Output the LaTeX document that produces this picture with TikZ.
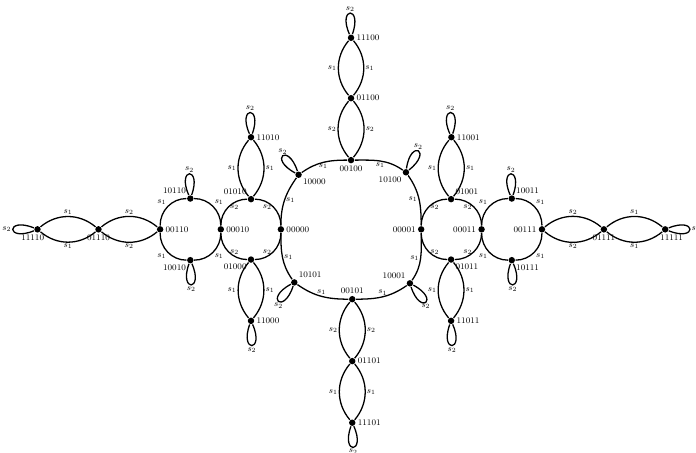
\documentclass[tikz,border=0pt]{standalone}
\usepackage{tikz}

\tikzset{
	vtx/.style={circle, fill=black, inner sep=0pt, minimum size=6pt},
	lab/.style={font=\footnotesize, inner sep=1pt},
	lp/.style={min distance=1cm, looseness=1},
}

\begin{document}
\begin{tikzpicture}[line width=1.2pt, every label/.style={lab}, label distance=0pt]
					\useasboundingbox (-11.51,-7.33) rectangle (11.31,7.52);
					\node[vtx, label={[xshift=-4.5pt]below:11110}] (v11110) at (-10.28,0) {};
					\node[vtx, label=below:01110] (v01110) at (-8.28,0) {};
					\node[vtx, label=right:00110] (v00110) at (-6.26,0) {};
					\node[vtx, label=above left:10110] (v10110) at (-5.27,1.01) {};
					\node[vtx, label=below left:10010] (v10010) at (-5.27,-1.01) {};
					\node[vtx, label=right:00010] (v00010) at (-4.27,0) {};
					\node[vtx, label=above left:01010] (v01010) at (-3.28,0.99) {};
					\node[vtx, label=below left:01000] (v01000) at (-3.28,-0.99) {};
					\node[vtx, label=right:11010] (v11010) at (-3.28,3.02) {};
					\node[vtx, label=right:11000] (v11000) at (-3.28,-3.0) {};
					\node[vtx, label=right:00000] (v00000) at (-2.3,0) {};
					\node[vtx, label=below right:10000] (v10000) at (-1.72,1.79) {};
					\node[vtx, label=below:00100] (v00100) at (0,2.27) {};
					\node[vtx, label=below left:10100] (v10100) at (1.8,1.87) {};
					\node[vtx, label=left:00001] (v00001) at (2.3,0) {};
					\node[vtx, label=above left:10001] (v10001) at (1.93,-1.77) {};
					\node[vtx, label=above:00101] (v00101) at (0.04,-2.29) {};
					\node[vtx, label=above right:10101] (v10101) at (-1.86,-1.74) {};
					\node[vtx, label=right:01100] (v01100) at (0,4.3) {};
					\node[vtx, label=right:11100] (v11100) at (0,6.28) {};
					\node[vtx, label=right:01101] (v01101) at (0.04,-4.32) {};
					\node[vtx, label=right:11101] (v11101) at (0.04,-6.34) {};
					\node[vtx, label=above right:01001] (v01001) at (3.28,0.99) {};
					\node[vtx, label=below right:01011] (v01011) at (3.28,-0.99) {};
					\node[vtx, label=right:11001] (v11001) at (3.29,3.02) {};
					\node[vtx, label=right:11011] (v11011) at (3.28,-3.0) {};
					\node[vtx, label=left:00011] (v00011) at (4.28,0) {};
					\node[vtx, label=above right:10011] (v10011) at (5.27,1.01) {};
					\node[vtx, label=below right:10111] (v10111) at (5.27,-1.01) {};
					\node[vtx, label=left:00111] (v00111) at (6.26,0) {};
					\node[vtx, label=below:01111] (v01111) at (8.29,0) {};
					\node[vtx, label={[xshift=6pt]below:11111}] (v11111) at (10.3,0) {};

					\draw (v00110) to[out=90,in=180] node[lab, above left] {$s_1$} (v10110);
					\draw (v10110) to[out=0,in=90] node[lab, above right] {$s_1$} (v00010);
					\draw (v00010) to[out=-90,in=0] node[lab, below right] {$s_1$} (v10010);
					\draw (v10010) to[out=180,in=-90] node[lab, below left] {$s_1$} (v00110);
					\draw (v00010) to[out=90,in=180] node[lab, right] {$s_2$} (v01010);
					\draw (v01010) to[out=0,in=90] node[lab, left] {$s_2$} (v00000);
					\draw (v00000) to[out=-90,in=0] node[lab, left] {$s_2$} (v01000);
					\draw (v01000) to[out=180,in=-90] node[lab, right] {$s_2$} (v00010);
					\draw (v00001) to[out=90,in=180] node[lab, right] {$s_2$} (v01001);
					\draw (v01001) to[out=0,in=90] node[lab, left] {$s_2$} (v00011);
					\draw (v00011) to[out=-90,in=0] node[lab, left] {$s_2$} (v01011);
					\draw (v01011) to[out=180,in=-90] node[lab, right] {$s_2$} (v00001);
					\draw (v00011) to[out=90,in=180] node[lab, above left] {$s_1$} (v10011);
					\draw (v10011) to[out=0,in=90] node[lab, above right] {$s_1$} (v00111);
					\draw (v00111) to[out=-90,in=0] node[lab, below right] {$s_1$} (v10111);
					\draw (v10111) to[out=180,in=-90] node[lab, below left] {$s_1$} (v00011);

					\draw (v00000) to[out=90,in=-125] node[lab, right] {$s_1$} (v10000);
					\draw (v10000) to[out=35,in=180] node[lab, below] {$s_1$} (v00100);
					\draw (v00100) to[out=0,in=145] node[lab, below] {$s_1$} (v10100);
					\draw (v10100) to[out=-55,in=90] node[lab, left] {$s_1$} (v00001);
					\draw (v00001) to[out=-90,in=55] node[lab, left] {$s_1$} (v10001);
					\draw (v10001) to[out=-145,in=0] node[lab, above] {$s_1$} (v00101);
					\draw (v00101) to[out=180,in=-35] node[lab, above] {$s_1$} (v10101);
					\draw (v10101) to[out=125,in=-90] node[lab, right] {$s_1$} (v00000);

					\draw (v11110) to[bend left=40] node[lab, above] {$s_1$} (v01110);
					\draw (v11110) to[bend right=40] node[lab, below] {$s_1$} (v01110);
					\draw (v01110) to[bend left=40] node[lab, above] {$s_2$} (v00110);
					\draw (v01110) to[bend right=40] node[lab, below] {$s_2$} (v00110);
					\draw (v00111) to[bend left=40] node[lab, above] {$s_2$} (v01111);
					\draw (v00111) to[bend right=40] node[lab, below] {$s_2$} (v01111);
					\draw (v01111) to[bend left=40] node[lab, above] {$s_1$} (v11111);
					\draw (v01111) to[bend right=40] node[lab, below] {$s_1$} (v11111);
					\draw (v01010) to[bend left=40] node[lab, left] {$s_1$} (v11010);
					\draw (v01010) to[bend right=40] node[lab, right] {$s_1$} (v11010);
					\draw (v11000) to[bend left=40] node[lab, left] {$s_1$} (v01000);
					\draw (v11000) to[bend right=40] node[lab, right] {$s_1$} (v01000);
					\draw (v01001) to[bend left=40] node[lab, left] {$s_1$} (v11001);
					\draw (v01001) to[bend right=40] node[lab, right] {$s_1$} (v11001);
					\draw (v11011) to[bend left=40] node[lab, left] {$s_1$} (v01011);
					\draw (v11011) to[bend right=40] node[lab, right] {$s_1$} (v01011);
					\draw (v00100) to[bend left=40] node[lab, left] {$s_2$} (v01100);
					\draw (v00100) to[bend right=40] node[lab, right] {$s_2$} (v01100);
					\draw (v01100) to[bend left=40] node[lab, left] {$s_1$} (v11100);
					\draw (v01100) to[bend right=40] node[lab, right] {$s_1$} (v11100);
					\draw (v01101) to[bend left=40] node[lab, left] {$s_2$} (v00101);
					\draw (v01101) to[bend right=40] node[lab, right] {$s_2$} (v00101);
					\draw (v11101) to[bend left=40] node[lab, left] {$s_1$} (v01101);
					\draw (v11101) to[bend right=40] node[lab, right] {$s_1$} (v01101);

					\draw (v11110) to[out=158,in=202,lp] node[lab, left] {$s_2$} (v11110);
					\draw (v11111) to[out=22,in=-22,lp] node[lab, right] {$s_2$} (v11111);
					\draw (v10110) to[out=114,in=70,lp] node[lab, above] {$s_2$} (v10110);
					\draw (v10010) to[out=-110,in=-66,lp] node[lab, below] {$s_2$} (v10010);
					\draw (v10011) to[out=114,in=70,lp] node[lab, above] {$s_2$} (v10011);
					\draw (v10111) to[out=-110,in=-66,lp] node[lab, below] {$s_2$} (v10111);
					\draw (v11010) to[out=114,in=70,lp] node[lab, above] {$s_2$} (v11010);
					\draw (v11000) to[out=-110,in=-66,lp] node[lab, below] {$s_2$} (v11000);
					\draw (v11001) to[out=114,in=70,lp] node[lab, above] {$s_2$} (v11001);
					\draw (v11011) to[out=-110,in=-66,lp] node[lab, below] {$s_2$} (v11011);
					\draw (v11100) to[out=114,in=70,lp] node[lab, above] {$s_2$} (v11100);
					\draw (v11101) to[out=-110,in=-66,lp] node[lab, below] {$s_2$} (v11101);
					\draw (v10000) to[out=152,in=108,lp] node[lab, above] {$s_2$} (v10000);
					\draw (v10100) to[out=82,in=38,lp] node[lab, above] {$s_2$} (v10100);
					\draw (v10101) to[out=208,in=252,lp] node[lab, below] {$s_2$} (v10101);
					\draw (v10001) to[out=288,in=332,lp] node[lab, below] {$s_2$} (v10001);
				\end{tikzpicture}
\end{document}
